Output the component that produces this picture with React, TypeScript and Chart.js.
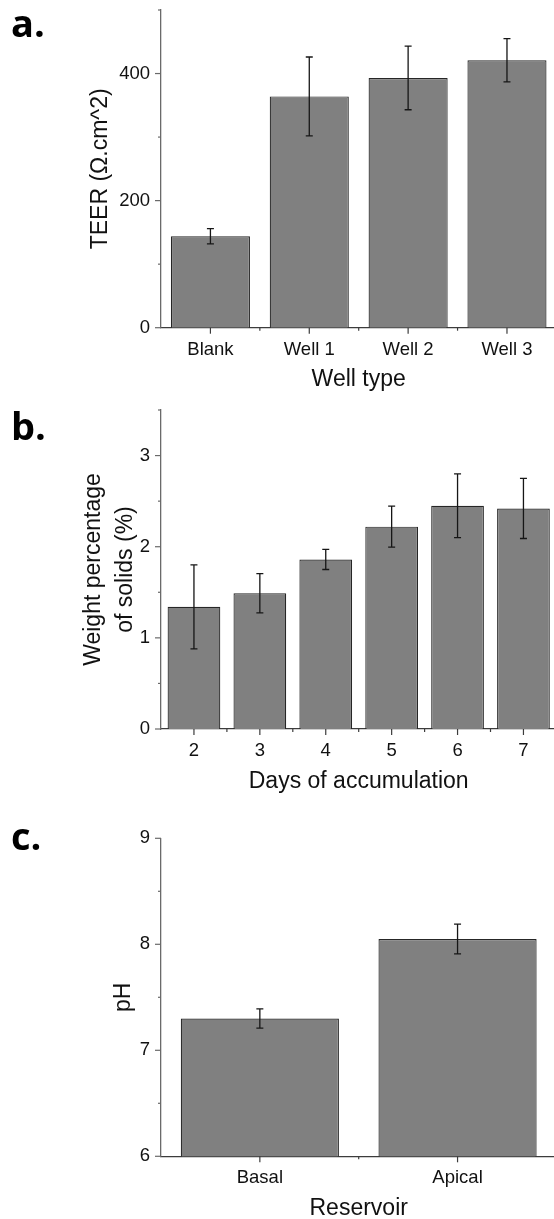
import React, { useEffect, useRef } from 'react';
import { Chart, registerables } from 'chart.js';

Chart.register(...registerables);

// ---- Data ----
const teerCategories = ['Blank', 'Well 1', 'Well 2', 'Well 3'];
const teerValues = [144, 364, 393, 421];
const teerErrors = [12, 62, 50, 34];

const solidsCategories = ['2', '3', '4', '5', '6', '7'];
const solidsValues = [1.34, 1.49, 1.86, 2.22, 2.45, 2.42];
const solidsErrors = [0.46, 0.215, 0.11, 0.225, 0.35, 0.33];

const phCategories = ['Basal', 'Apical'];
const phValues = [7.3, 8.05];
const phErrors = [0.09, 0.14];

const FONT = '"Liberation Sans", Arial, Helvetica, sans-serif';

const errorBarPlugin = {
  id: 'errorBars',
  afterDatasetsDraw(chart: any) {
    const ds: any = chart.data.datasets[0];
    const errs: number[] = ds.errors || [];
    const meta = chart.getDatasetMeta(0);
    const yScale = chart.scales.y;
    const ctx = chart.ctx;
    ctx.save();
    ctx.strokeStyle = '#161616';
    ctx.lineWidth = 1.3;
    meta.data.forEach((bar: any, i: number) => {
      const v = ds.data[i] as number;
      const e = errs[i];
      if (e == null) return;
      const x = bar.x;
      const yHi = yScale.getPixelForValue(v + e);
      const yLo = yScale.getPixelForValue(v - e);
      const cap = 3.5;
      ctx.beginPath();
      ctx.moveTo(x, yHi);
      ctx.lineTo(x, yLo);
      ctx.moveTo(x - cap, yHi);
      ctx.lineTo(x + cap, yHi);
      ctx.moveTo(x - cap, yLo);
      ctx.lineTo(x + cap, yLo);
      ctx.stroke();
    });
    ctx.restore();
  },
};

function makeTickPlugin(majorStep: number) {
  return {
    id: 'axisTicks',
    afterDraw(chart: any) {
      const ctx = chart.ctx;
      const area = chart.chartArea;
      const yS = chart.scales.y;
      const xS = chart.scales.x;
      ctx.save();
      ctx.lineWidth = 1.2;
      ctx.strokeStyle = '#6a6a6a';
      yS.ticks.forEach((t: any, i: number) => {
        const r = t.value / majorStep;
        const major = Math.abs(r - Math.round(r)) < 1e-6;
        const len = major ? 6 : 3;
        const py = yS.getPixelForTick(i);
        ctx.beginPath();
        ctx.moveTo(area.left - len, py);
        ctx.lineTo(area.left, py);
        ctx.stroke();
      });
      ctx.strokeStyle = '#3c3c3c';
      const n = xS.ticks.length;
      for (let i = 0; i < n; i++) {
        const px = xS.getPixelForTick(i);
        ctx.beginPath();
        ctx.moveTo(px, area.bottom);
        ctx.lineTo(px, area.bottom + 6);
        ctx.stroke();
      }
      for (let i = 1; i < n; i++) {
        const px = (xS.getPixelForTick(i - 1) + xS.getPixelForTick(i)) / 2;
        ctx.beginPath();
        ctx.moveTo(px, area.bottom);
        ctx.lineTo(px, area.bottom + 3);
        ctx.stroke();
      }
      ctx.restore();
    },
  };
}

type PanelProps = {
  top: number;
  height: number;
  categories: string[];
  values: number[];
  errors: number[];
  yMin: number;
  yMax: number;
  step: number;
  majorStep: number;
  yTitle: string | string[];
  xTitle: string;
  padTop: number;
  xAxisHeight: number;
  yTitlePad: number;
  yTitleLineHeight: number;
  xTitlePad: number;
};

function BarPanel(p: PanelProps) {
  const ref = useRef<HTMLCanvasElement | null>(null);
  useEffect(() => {
    if (!ref.current) return;
    const chart = new Chart(ref.current, {
      type: 'bar',
      data: {
        labels: p.categories,
        datasets: [
          {
            data: p.values,
            errors: p.errors,
            backgroundColor: '#808080',
            borderColor: '#262626',
            borderWidth: 1.2,
            barPercentage: 0.8,
            categoryPercentage: 1,
          } as any,
        ],
      },
      options: {
        responsive: false,
        animation: false,
        devicePixelRatio: 1,
        layout: { padding: { top: p.padTop, right: 3.6, left: 0, bottom: 0 } },
        plugins: { legend: { display: false }, tooltip: { enabled: false } },
        scales: {
          x: {
            type: 'category',
            offset: true,
            grid: { display: false, drawTicks: false, tickLength: 0 },
            border: { display: true, color: '#3c3c3c', width: 1.3 },
            ticks: {
              padding: 11,
              color: '#111',
              autoSkip: false,
              maxRotation: 0,
              minRotation: 0,
              font: { family: FONT, size: 18.5 },
            },
            title: {
              display: true,
              text: p.xTitle,
              color: '#111',
              font: { family: FONT, size: 23, lineHeight: 1.2 },
              padding: { top: 0, bottom: p.xTitlePad },
            },
            afterFit: (s: any) => {
              s.height = p.xAxisHeight;
              s.paddingLeft = 0;
              s.paddingRight = 0;
            },
          },
          y: {
            type: 'linear',
            min: p.yMin,
            max: p.yMax,
            grid: { display: false, drawTicks: false, tickLength: 0 },
            border: { display: true, color: '#6a6a6a', width: 1.3 },
            ticks: {
              stepSize: p.step,
              autoSkip: false,
              padding: 11,
              color: '#111',
              font: { family: FONT, size: 18.5 },
              callback: (v: any) => {
                const r = Number(v) / p.majorStep;
                return Math.abs(r - Math.round(r)) < 1e-6 ? String(Number(v)) : '';
              },
            },
            title: {
              display: true,
              text: p.yTitle,
              color: '#111',
              font: { family: FONT, size: 23, lineHeight: p.yTitleLineHeight },
              padding: { top: p.yTitlePad, bottom: 0 },
            },
            afterFit: (s: any) => {
              s.width = 161;
              s.paddingTop = 0;
              s.paddingBottom = 0;
            },
          },
        },
      } as any,
      plugins: [errorBarPlugin, makeTickPlugin(p.majorStep)],
    });
    return () => chart.destroy();
  }, []);
  return (
    <canvas
      ref={ref}
      width={560}
      height={p.height}
      style={{ position: 'absolute', left: 0, top: p.top, width: 560, height: p.height, display: 'block' }}
    />
  );
}

const labelStyle: React.CSSProperties = {
  position: 'absolute',
  left: 11,
  fontFamily: '"Open Sans", "Noto Sans", sans-serif',
  fontWeight: 700,
  fontSize: 38,
  lineHeight: 1,
  color: '#000',
};

export default function App() {
  return (
    <div
      style={{
        position: 'absolute',
        left: 0,
        top: 0,
        width: 554,
        height: 1219,
        overflow: 'hidden',
        background: '#fff',
      }}
    >
      <BarPanel
        top={0}
        height={400}
        categories={teerCategories}
        values={teerValues}
        errors={teerErrors}
        yMin={0}
        yMax={500}
        step={100}
        majorStep={200}
        yTitle="TEER (Ω.cm^2)"
        xTitle="Well type"
        padTop={10}
        xAxisHeight={72.3}
        yTitlePad={87}
        yTitleLineHeight={1.2}
        xTitlePad={7}
      />
      <BarPanel
        top={400}
        height={400}
        categories={solidsCategories}
        values={solidsValues}
        errors={solidsErrors}
        yMin={0}
        yMax={3.5}
        step={0.5}
        majorStep={1}
        yTitle={['Weight percentage', 'of solids (%)']}
        xTitle="Days of accumulation"
        padTop={10}
        xAxisHeight={71}
        yTitlePad={77.7}
        yTitleLineHeight={1.383}
        xTitlePad={4.7}
      />
      <BarPanel
        top={800}
        height={430}
        categories={phCategories}
        values={phValues}
        errors={phErrors}
        yMin={6}
        yMax={9}
        step={0.5}
        majorStep={1}
        yTitle="pH"
        xTitle="Reservoir"
        padTop={38.3}
        xAxisHeight={73.7}
        yTitlePad={110}
        yTitleLineHeight={1.2}
        xTitlePad={7.7}
      />
      <div style={{ ...labelStyle, top: 3.3 }}>a.</div>
      <div style={{ ...labelStyle, top: 406.3 }}>b.</div>
      <div style={{ ...labelStyle, top: 816.3 }}>c.</div>
    </div>
  );
}
